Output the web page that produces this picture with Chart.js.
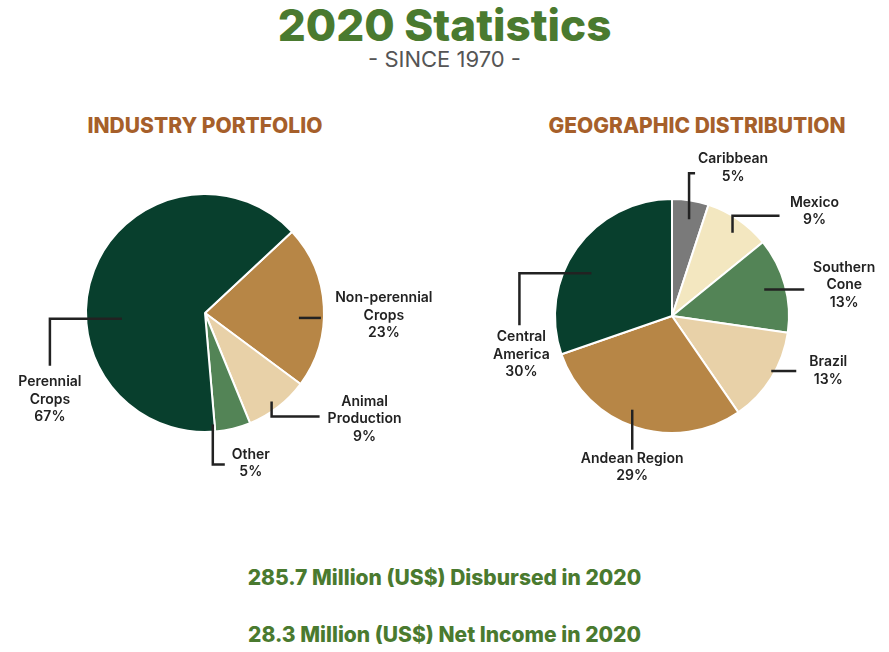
<!DOCTYPE html>
<html>
<head>
<meta charset="utf-8">
<script src="https://cdn.jsdelivr.net/npm/chart.js@4.4.0/dist/chart.umd.min.js"></script>
<style>
  body { margin: 0; width: 889px; height: 652px; background: #fff; position: relative; font-family: Inter, Roboto, sans-serif; overflow: hidden; }
  .t { position: absolute; left: 0; width: 889px; text-align: center; }
  #title { top: -2px; font-size: 44px; font-weight: 800; color: #4a7a2f; }
  #sub { top: 46px; font-size: 22px; color: #555; }
  .h { position: absolute; top: 113px; font-size: 21px; font-weight: 800; color: #a65f2a; text-align: center; width: 420px; }
  .foot { font-size: 21px; font-weight: 800; color: #4a7a2f; }
  canvas { position: absolute; top: 150px; }
</style>
</head>
<body>
<div class="t" id="title">2020 Statistics</div>
<div class="t" id="sub">- SINCE 1970 -</div>
<div class="h" style="left:-5px">INDUSTRY PORTFOLIO</div>
<div class="h" style="left:487px">GEOGRAPHIC DISTRIBUTION</div>
<canvas id="c1" width="444" height="330" style="left:0"></canvas>
<canvas id="c2" width="445" height="330" style="left:444px"></canvas>
<div class="t foot" style="top:565px">285.7 Million (US$) Disbursed in 2020</div>
<div class="t foot" style="top:622px">28.3 Million (US$) Net Income in 2020</div>
<script>
// industry portfolio
const industryLabels = [['Non-perennial', 'Crops'], ['Animal', 'Production'], ['Other'], ['Perennial', 'Crops']];
const industryValues = [23, 9, 5, 67];
const industryColors = ['#b78646', '#e8d1a8', '#538456', '#083f2d'];

// geographic distribution
const geoLabels = [['Caribbean'], ['Mexico'], ['Southern', 'Cone'], ['Brazil'], ['Andean Region'], ['Central', 'America']];
const geoValues = [5, 9, 13, 13, 29, 30];
const geoColors = ['#7a7a7a', '#f3e7c0', '#538456', '#e8d1a8', '#b78646', '#083f2d'];

// leader line styling per slice: start angle/radius fraction, path moves, label offset
const industryLeaders = [
  { a: 93, r: 0.79, path: [[22, 0]], lab: [63, -20] },
  { a: 143, r: 0.93, path: [[0, 15], [48, 0]], lab: [45, -15] },
  { a: 176, r: 0.94, path: [[0, 40], [12, 0]], lab: [26, -10] },
  { a: 266, r: 0.7, path: [[-72, 0], [0, 47]], lab: [0, 16] }
];
const geoLeaders = [
  { a: 10, r: 0.84, path: [[0, -46], [6, 0]], lab: [38, -14] },
  { a: 36, r: 0.88, path: [[0, -17], [47, 0]], lab: [35, -13] },
  { a: 74, r: 0.82, path: [[40, 0]], lab: [40, -22] },
  { a: 119, r: 0.97, path: [[25, 0]], lab: [32, -9] },
  { a: 203, r: 0.87, path: [[0, 40]], lab: [0, 9] },
  { a: 298, r: 0.78, path: [[-72, 0], [0, 52]], lab: [2, 12] }
];

const leaderPlugin = {
  id: 'leaders',
  afterDraw(chart, args, opts) {
    const ctx = chart.ctx;
    const meta = chart.getDatasetMeta(0);
    const vals = chart.data.datasets[0].data;
    const total = vals.reduce((s, v) => s + v, 0);
    meta.data.forEach((arc, i) => {
      const L = opts.leaders[i];
      const ang = L.a * Math.PI / 180;
      let x = arc.x + Math.sin(ang) * arc.outerRadius * L.r;
      let y = arc.y - Math.cos(ang) * arc.outerRadius * L.r;
      ctx.save();
      ctx.strokeStyle = '#222';
      ctx.lineWidth = 2.5;
      ctx.beginPath();
      ctx.moveTo(x, y);
      L.path.forEach(p => { x += p[0]; y += p[1]; ctx.lineTo(x, y); });
      ctx.stroke();
      const lines = chart.data.labels[i].concat([Math.round(vals[i]) + '%']);
      ctx.fillStyle = '#222';
      ctx.font = '600 14px Inter, Roboto, sans-serif';
      ctx.textAlign = 'center';
      ctx.textBaseline = 'middle';
      lines.forEach((t, k) => ctx.fillText(t, x + L.lab[0], y + L.lab[1] + k * 17.5));
      ctx.restore();
    });
  }
};

function makePie(id, labels, values, colors, rotation, padding, leaders) {
  new Chart(document.getElementById(id), {
    type: 'pie',
    data: { labels, datasets: [{ data: values, backgroundColor: colors, borderColor: '#fff', borderWidth: 2 }] },
    options: {
      responsive: false,
      animation: false,
      rotation,
      layout: { padding },
      plugins: { legend: { display: false }, tooltip: { enabled: false }, leaders: { leaders } }
    },
    plugins: [leaderPlugin]
  });
}

makePie('c1', industryLabels, industryValues, industryColors, 47, { left: 85, right: 119, top: 43, bottom: 47 }, industryLeaders);
makePie('c2', geoLabels, geoValues, geoColors, 0, { left: 110, right: 99, top: 48, bottom: 46 }, geoLeaders);
</script>
</body>
</html>
